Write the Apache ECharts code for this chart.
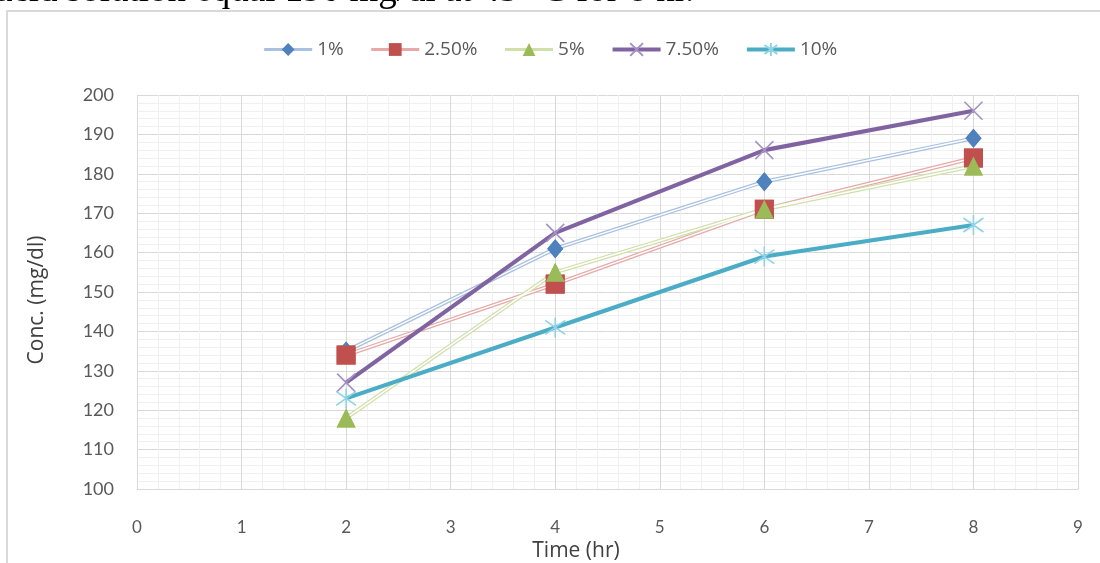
<!DOCTYPE html>
<html>
<head>
<meta charset="utf-8">
<script src="https://cdn.jsdelivr.net/npm/echarts@6/dist/echarts.min.js"></script>
<style>
  html, body { margin: 0; padding: 0; background: #fff; }
  #chart { width: 1100px; height: 563px; }
</style>
</head>
<body>
<div id="chart"></div>
<script>
// Sampling times (hr) and measured concentrations (mg/dl)
const times = [2, 4, 6, 8];
const seriesNames = ['1%', '2.50%', '5%', '7.50%', '10%'];
const conc1 = [135, 161, 178, 189];
const conc25 = [134, 152, 171, 184];
const conc5 = [118, 155, 171, 182];
const conc75 = [127, 165, 186, 196];
const conc10 = [123, 141, 159, 167];
const xTicks = [0, 1, 2, 3, 4, 5, 6, 7, 8, 9];
const yTicks = [100, 110, 120, 130, 140, 150, 160, 170, 180, 190, 200];

const FONT = 'Lato, "Open Sans", sans-serif';
const TITLE_FONT = '"Open Sans", Lato, sans-serif';
const pairs = vals => times.map((t, i) => [t, vals[i]]);

const xMarker = 'path://M0,0 L10,10 M10,0 L0,10';
const starMarker = 'path://M5,0 L5,10 M0,1.5 L10,8.5 M10,1.5 L0,8.5';

// Thin double-line series: a pale wide stroke, a white core, then markers on top
function doubleLine(name, vals, pale, marker, markerColor, size) {
  const data = pairs(vals);
  return [
    {
      name: name, type: 'line', data: data, z: 2,
      symbol: marker, symbolSize: size,
      itemStyle: { color: markerColor },
      lineStyle: { color: pale, width: 4 },
      emphasis: { disabled: true }
    },
    {
      name: name + '-core', type: 'line', data: data, z: 3, silent: true,
      symbol: 'none', lineStyle: { color: '#ffffff', width: 1.5 },
      emphasis: { disabled: true }
    },
    {
      name: name + '-marks', type: 'line', data: data, z: 4, silent: true,
      symbol: marker, symbolSize: size,
      itemStyle: { color: markerColor },
      lineStyle: { width: 0, opacity: 0 },
      emphasis: { disabled: true }
    }
  ];
}

function thickLine(name, vals, color, marker, markerColor, size) {
  return {
    name: name, type: 'line', data: pairs(vals), z: 5,
    symbol: marker, symbolSize: size,
    itemStyle: { color: 'rgba(0,0,0,0)', borderColor: markerColor, borderWidth: 1.6 },
    lineStyle: { color: color, width: 4.2 },
    emphasis: { disabled: true }
  };
}

const series = [].concat(
  doubleLine(seriesNames[0], conc1, '#a9c1e1', 'diamond', '#4f81bd', [16, 19]),
  doubleLine(seriesNames[1], conc25, '#e6a9a8', 'rect', '#c0504d', 19),
  doubleLine(seriesNames[2], conc5, '#d0e0aa', 'triangle', '#9bbb59', 19),
  [
    thickLine(seriesNames[3], conc75, '#8064a2', xMarker, '#a592c4', 18),
    thickLine(seriesNames[4], conc10, '#4bacc6', starMarker, '#8fd3e6', 20)
  ]
);

const chart = echarts.init(document.getElementById('chart'), null, { renderer: 'canvas' });
chart.setOption({
  backgroundColor: '#ffffff',
  animation: false,
  legend: {
    data: [
      { name: seriesNames[0], lineStyle: { width: 3 } },
      { name: seriesNames[1], lineStyle: { width: 3 } },
      { name: seriesNames[2], lineStyle: { width: 3 } },
      { name: seriesNames[3], lineStyle: { width: 4 } },
      { name: seriesNames[4], lineStyle: { width: 4 } }
    ],
    top: 35,
    left: 'center',
    itemWidth: 48,
    itemHeight: 16,
    itemGap: 26,
    textStyle: { fontFamily: TITLE_FONT, fontSize: 19, color: '#595959' }
  },
  grid: { left: 137, right: 22, top: 95, bottom: 74 },
  xAxis: {
    type: 'value', min: 0, max: 9, interval: 1,
    axisLine: { show: true, lineStyle: { color: '#d9d9d9', width: 1 } },
    axisTick: { show: false },
    axisLabel: {
      margin: 30, fontFamily: FONT, fontSize: 17, color: '#595959',
      formatter: v => xTicks.includes(v) ? String(v) : ''
    },
    splitLine: { show: true, lineStyle: { color: '#d9d9d9', width: 1 } },
    minorTick: { show: false, splitNumber: 5 },
    minorSplitLine: { show: true, lineStyle: { color: '#f0f0f0', width: 1 } }
  },
  yAxis: {
    type: 'value', min: 100, max: 200, interval: 10,
    axisLine: { show: false },
    axisTick: { show: false },
    axisLabel: {
      margin: 23, fontFamily: FONT, fontSize: 18, color: '#595959',
      formatter: v => yTicks.includes(v) ? String(v) : ''
    },
    splitLine: { show: true, lineStyle: { color: '#d9d9d9', width: 1 } },
    minorTick: { show: false, splitNumber: 5 },
    minorSplitLine: { show: true, lineStyle: { color: '#f0f0f0', width: 1 } }
  },
  graphic: [
    {
      type: 'text', left: -4, top: -27, z: 10,
      style: {
        text: 'acid solution equal 190 mg/dl at 45 \u00B0C for 8 hr.',
        font: '37px "Liberation Serif", "DejaVu Serif", serif',
        fill: '#000000'
      }
    },
    {
      type: 'polyline', z: 10, silent: true,
      shape: { points: [[7, 600], [7, 11], [1200, 11]] },
      style: { stroke: '#d9d9d9', lineWidth: 2, fill: null }
    },
    {
      type: 'text', x: 37, y: 300, rotation: Math.PI / 2, z: 10,
      style: {
        text: 'Conc. (mg/dl)', align: 'center', verticalAlign: 'middle',
        font: '21px ' + TITLE_FONT, fill: '#404040'
      }
    },
    {
      type: 'text', x: 576, y: 551, z: 10,
      style: {
        text: 'Time (hr)', align: 'center', verticalAlign: 'middle',
        font: '21px ' + TITLE_FONT, fill: '#404040'
      }
    }
  ],
  series: series
});
</script>
</body>
</html>
